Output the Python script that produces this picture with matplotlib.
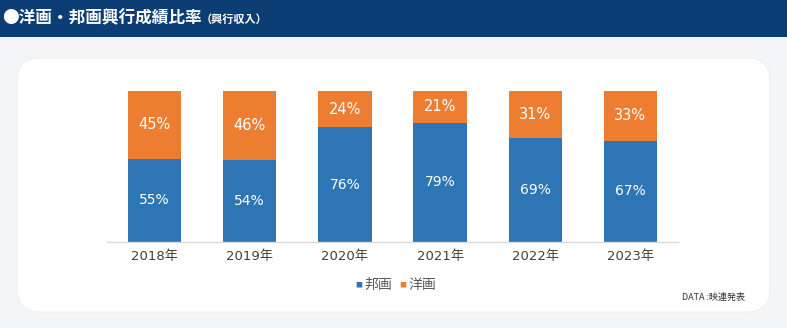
import matplotlib.pyplot as plt
from matplotlib.patches import FancyBboxPatch, Rectangle

# --- DATA ---
years = ["2018年", "2019年", "2020年", "2021年", "2022年", "2023年"]
houga = [55, 54, 76, 79, 69, 67]   # 邦画
youga = [45, 46, 24, 21, 31, 33]   # 洋画

BLUE = "#2E75B6"
ORANGE = "#ED7D31"
NAVY = "#0C3D74"
BG = "#F4F5F6"

plt.rcParams['font.family'] = ['Noto Sans CJK JP', 'DejaVu Sans']
NUMFONT = ['DejaVu Sans', 'Noto Sans CJK JP']

W, H = 787, 328
fig = plt.figure(figsize=(W / 100, H / 100), dpi=100)
fig.patch.set_facecolor(BG)

# header band
fig.patches.append(Rectangle((0, 1 - 37 / H), 1, 37 / H, transform=fig.transFigure,
                             facecolor=NAVY, edgecolor="none", zorder=-2))
fig.text(2 / W, 1 - 18 / H, "●洋画・邦画興行成績比率", color="white", fontsize=12,
         fontweight="bold", va="center", ha="left")
fig.text(201 / W, 1 - 19 / H, "（興行収入）", color="white", fontsize=8,
         fontweight="bold", va="center", ha="left")

# white panel
fig.patches.append(FancyBboxPatch((17 / W, 1 - 312 / H), 753 / W, 254 / H,
                                  boxstyle="round,pad=0,rounding_size=0.03",
                                  transform=fig.transFigure, facecolor="white",
                                  edgecolor="#ECEDEE", linewidth=0.6, zorder=-2,
                                  mutation_aspect=W / H))

ax = fig.add_axes([107 / W, 86 / H, 571 / W, 151 / H])
ax.set_zorder(2)
ax.set_facecolor("none")
x = range(len(years))
ax.bar(x, houga, width=0.56, color=BLUE, zorder=2)
ax.bar(x, youga, width=0.56, bottom=houga, color=ORANGE, zorder=2)

for i in x:
    ax.text(i, houga[i] / 2, f"{houga[i]}%", color="white", fontsize=10,
            ha="center", va="center", family=NUMFONT)
    ax.text(i, houga[i] + youga[i] / 2, f"{youga[i]}%", color="white", fontsize=10.5,
            ha="center", va="center", family=NUMFONT)

ax.set_xlim(-0.5, len(years) - 0.5)
ax.set_ylim(0, 100)
ax.set_xticks(list(x))
ax.set_xticklabels(years, color="#404040", fontsize=9.5, family=NUMFONT)
ax.tick_params(axis="x", length=0, pad=6)
ax.set_yticks([])
for s in ["top", "left", "right"]:
    ax.spines[s].set_visible(False)
ax.spines["bottom"].set_color("#D9D9D9")
ax.spines["bottom"].set_linewidth(1)

# legend
fig.text(355 / W, 1 - 285 / H, "■", color=BLUE, fontsize=5, va="center", ha="left")
fig.text(364 / W, 1 - 285 / H, "邦画", color="#595959", fontsize=10, va="center", ha="left")
fig.text(399 / W, 1 - 285 / H, "■", color=ORANGE, fontsize=5, va="center", ha="left")
fig.text(408 / W, 1 - 285 / H, "洋画", color="#595959", fontsize=10, va="center", ha="left")

fig.text(745 / W, 1 - 297 / H, "DATA :映連発表", color="#333333", fontsize=6.5,
         va="center", ha="right")

fig.savefig("out.png", dpi=100, facecolor=fig.get_facecolor())
